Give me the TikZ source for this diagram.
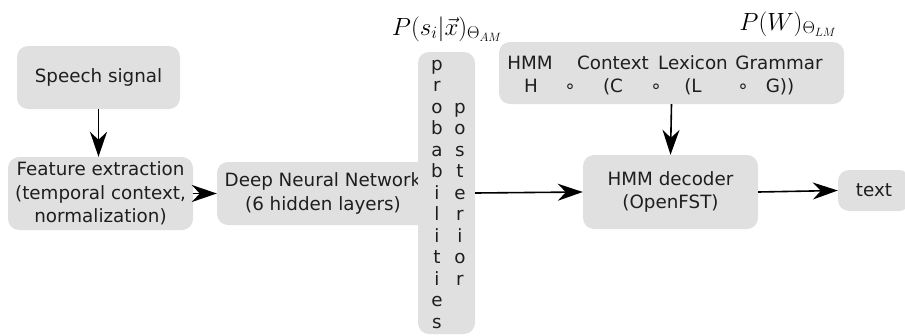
\documentclass[tikz,border=0pt]{standalone}
\usepackage{fontspec}
\setmainfont{DejaVu Sans}
\definecolor{boxgray}{HTML}{E0E0E0}
\definecolor{ink}{HTML}{1E1E1E}
\usetikzlibrary{arrows.meta,positioning}

\begin{document}
\begin{tikzpicture}[x=1pt,y=-1pt,
  box/.style={fill=boxgray,rounded corners=11pt,align=center,inner sep=0pt,text=ink,
    font=\fontsize{18.3}{23.3}\selectfont},
  word/.style={anchor=base,inner sep=0pt,text=ink,font=\fontsize{18.3}{23.3}\selectfont},
  flow/.style={-{Stealth[length=25pt,width=17pt,inset=8pt]},line width=1.6pt},
  lbl/.style={inner sep=0pt,font=\fontsize{23}{26}\selectfont}]
  \useasboundingbox (0,0) rectangle (905,335);
  % front end
  \node[box,minimum width=163pt,minimum height=63pt] (speech) at (98.5,77.5) {Speech signal};
  \node[box,minimum width=185pt,minimum height=73pt] (feat) at (100.5,193.5) {Feature extraction\\(temporal context,\\normalization)};
  \node[box,minimum width=212pt,minimum height=63pt] (dnn) at (323,193.5) {Deep Neural Network\\(6 hidden layers)};
  % posterior column
  \node[box,minimum width=57pt,minimum height=282pt] (post) at (446.5,193) {};
  \node[word,anchor=center,align=center,font=\fontsize{18.3}{21.5}\selectfont] (probtxt) at (437,194) {p\\r\\o\\b\\a\\b\\i\\l\\i\\t\\i\\e\\s};
  \node[word,anchor=center,align=center,font=\fontsize{18.3}{21.5}\selectfont] (postxt) at (460,194) {p\\o\\s\\t\\e\\r\\i\\o\\r};
  \node[lbl] (amlbl) at (447,29) {$P(s_i|\vec{x})_{\Theta_{AM}}$};
  % decoding graph
  \node[box,minimum width=345pt,minimum height=62pt] (graph) at (671.5,73) {};
  \node[word] (wHMM) at (530,69) {HMM};
  \node[word] (wCtx) at (613,69) {Context};
  \node[word] (wLex) at (693,69) {Lexicon};
  \node[word] (wGram) at (779,69) {Grammar};
  \node[word] (sH) at (531,92.5) {H};
  \node[word] (c1) at (570,92.5) {∘};
  \node[word] (sC) at (613,92.5) {(C};
  \node[word] (c2) at (656,92.5) {∘};
  \node[word] (sL) at (693,92.5) {(L};
  \node[word] (c3) at (743,92.5) {∘};
  \node[word] (sG) at (780,92.5) {G))};
  \node[lbl] (lmlbl) at (788,24) {$P(W)_{\Theta_{LM}}$};
  % decoder and output
  \node[box,minimum width=175pt,minimum height=74pt] (dec) at (670.5,192) {HMM decoder\\(OpenFST)};
  \node[box,minimum width=72pt,minimum height=41pt] (out) at (874,190.5) {text};
  % arrows
  \draw[flow] (speech.south) -- (speech.south |- feat.north);
  \draw[flow] (feat.east) -- (dnn.west);
  \draw[flow] (post.east) -- (dec.west);
  \draw[flow] (graph.south) -- (dec.north);
  \draw[flow] (dec.east) -- (out.west);
\end{tikzpicture}
\end{document}
